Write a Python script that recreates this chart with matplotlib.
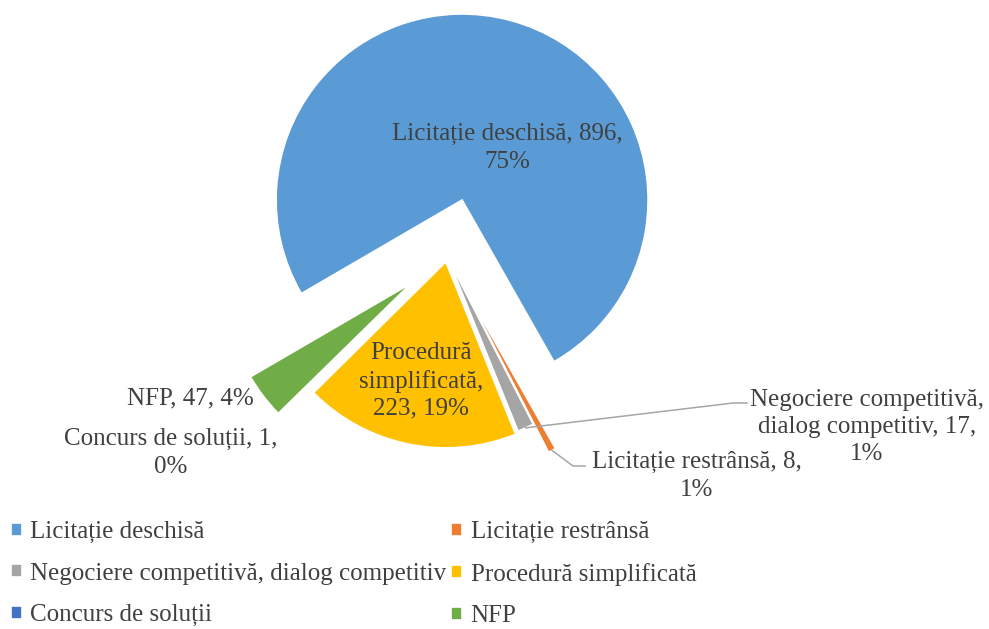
import matplotlib.pyplot as plt
import numpy as np

categories = ["Licitație deschisă", "Licitație restrânsă",
              "Negociere competitivă, dialog competitiv", "Procedură simplificată",
              "Concurs de soluții", "NFP"]
values = [896, 8, 17, 223, 1, 47]
colors = ["#5B9BD5", "#ED7D31", "#A5A5A5", "#FFC000", "#4472C4", "#70AD47"]
# slice offsets from the centre, in pixels
explode = [58, 35, 3, 6, 0, 45]
label_text = ["Licitație deschisă, 896,\n75%",
              "Licitație restrânsă, 8,\n1%",
              "Negociere competitivă,\ndialog competitiv, 17,\n1%",
              "Procedură\nsimplificată,\n223, 19%",
              "Concurs de soluții, 1,\n0%",
              "NFP, 47, 4%"]

W, H = 989, 629
plt.rcParams['font.family'] = ['Liberation Serif', 'DejaVu Serif']
txt = '#404040'
fs = 18

fig = plt.figure(figsize=(W / 100, H / 100), dpi=100)
ax = fig.add_axes([0, 0, 1, 1])

R = 186
wedges, _ = ax.pie(values, colors=colors, explode=explode, radius=R,
                   center=(447, H - 256), startangle=210.2, counterclock=False,
                   wedgeprops=dict(edgecolor='white', linewidth=1.2))
# pie() sets its own limits, so put the pixel frame back afterwards
ax.set_xlim(0, W)
ax.set_ylim(0, H)
ax.set_aspect('equal')
ax.axis('off')

# label positions (x, y from top)
pos = [(507, 148), (697, 476), (867, 427), (421, 381), (171, 453), (190, 398)]
for (x, y), t in zip(pos, label_text):
    ax.text(x, H - y, t, ha='center', va='center', multialignment='center',
            fontsize=fs, color=txt, linespacing=1.3)

def outer_mid(w):
    th = np.deg2rad((w.theta1 + w.theta2) / 2)
    cx, cy = w.center
    return cx + w.r * np.cos(th), cy + w.r * np.sin(th)

# leader lines for the thin slices
for i, elbow, end in [(2, (733, 403), (747, 403)), (1, (573, 466), (585, 466))]:
    x0, y0 = outer_mid(wedges[i])
    ax.plot([x0, elbow[0], end[0]], [y0, H - elbow[1], H - end[1]],
            color='#A6A6A6', lw=1.1)

order = [0, 2, 4, 1, 3, 5]
leg = ax.legend([wedges[i] for i in order], [categories[i] for i in order],
                ncol=2, loc='upper left', bbox_to_anchor=(11 / W, 1 - 521 / H),
                frameon=False, fontsize=fs, handlelength=0.42, handleheight=0.42,
                handletextpad=0.35, columnspacing=0.2, labelspacing=0.78,
                borderpad=0, borderaxespad=0)
for t in leg.get_texts():
    t.set_color(txt)

fig.savefig('out.png', dpi=100)
